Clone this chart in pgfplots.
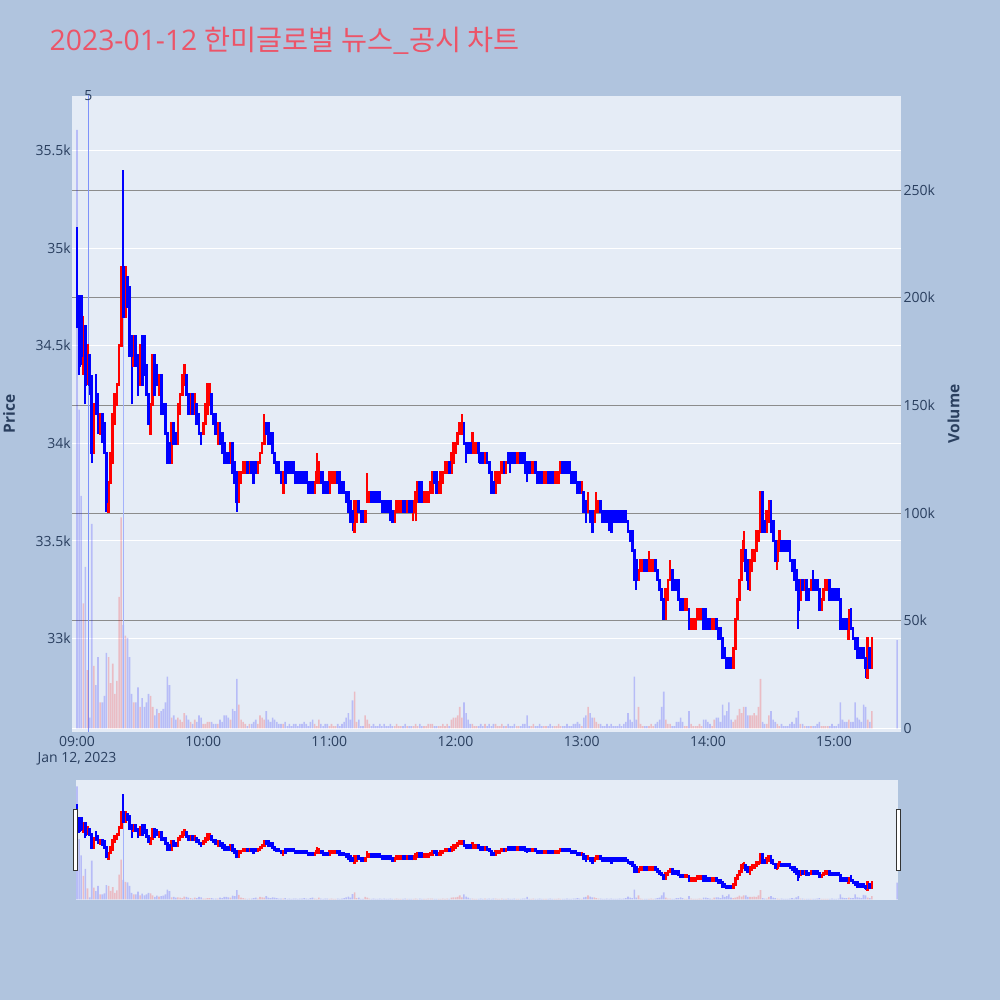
\documentclass[border=0pt]{standalone}
\usepackage{pgfplots}
\usepackage{pgfplotstable}
\pgfplotsset{compat=1.18}
\usepackage{fontspec}
\setmainfont{Open Sans}
\newfontfamily\krfont{Noto Sans CJK KR}

\definecolor{paper}{RGB}{176,196,222}
\definecolor{plotbg}{RGB}{229,236,246}
\definecolor{txt}{RGB}{42,63,95}
\definecolor{up}{RGB}{255,0,0}
\definecolor{down}{RGB}{0,0,255}
\definecolor{vgrid}{RGB}{140,140,140}
\definecolor{ttl}{RGB}{236,84,104}
\definecolor{news}{RGB}{125,145,250}

% one row per minute from 09:00 (t = minutes), volume in thousands
\pgfplotstableread{
t o h l c v
0 35100 35100 34600 34600 278
1 34750 34750 34350 34400 148
2 34750 34750 34400 34450 108
3 34400 34650 34350 34600 58
4 34600 34600 34200 34300 75
5 34350 34500 34300 34500 27
6 34450 34450 34250 34300 5
7 34300 34350 33900 33950 95
8 33950 34200 33950 34200 29
9 34350 34350 34150 34150 20
10 34250 34250 34050 34100 33
11 34050 34150 34050 34150 12
12 34150 34150 34000 34050 12
13 34100 34100 33950 33950 15
14 33950 33950 33650 33700 35
15 33650 33800 33650 33800 33
16 33800 33950 33800 33950 21
17 33900 34150 33900 34150 30
18 34100 34250 34100 34250 16
19 34200 34300 34200 34300 22
20 34300 34500 34300 34500 61
21 34500 34900 34500 34900 98
22 34900 35400 34650 34650 48
23 34650 34900 34650 34900 43
24 34850 34850 34700 34700 42
25 34800 34800 34450 34450 33
26 34550 34550 34200 34450 16
27 34400 34550 34400 34550 12
28 34550 34550 34400 34400 12
29 34450 34450 34250 34250 19
30 34300 34500 34300 34500 10
31 34550 34550 34300 34300 14
32 34550 34550 34350 34350 10
33 34400 34400 34250 34250 12
34 34250 34250 34100 34100 16
35 34050 34200 34050 34200 15
36 34200 34450 34200 34450 10
37 34450 34450 34250 34250 6
38 34400 34400 34300 34300 9
39 34250 34350 34250 34350 7
40 34350 34350 34150 34150 8
41 34200 34200 34150 34150 9
42 34200 34200 34050 34050 12
43 34050 34050 33900 33900 24
44 34000 34000 33900 33900 20
45 33900 34100 33900 34100 5
46 34100 34100 34000 34000 6
47 34050 34050 34000 34000 4
48 34000 34200 34000 34200 5
49 34150 34250 34150 34250 4
50 34250 34350 34250 34350 3
51 34300 34400 34300 34400 7
52 34350 34350 34250 34250 6
53 34250 34250 34150 34150 4
54 34150 34250 34150 34250 3
55 34250 34250 34150 34150 2
56 34150 34250 34150 34250 4
57 34200 34200 34100 34100 3
58 34150 34150 34050 34050 6
59 34050 34050 34000 34000 5
60 34050 34100 34050 34100 2
61 34100 34200 34100 34200 2
62 34150 34300 34150 34300 3
63 34200 34300 34200 34300 3
64 34250 34250 34150 34150 3
65 34150 34150 34100 34100 2
66 34150 34150 34050 34050 2
67 34000 34100 34000 34100 2
68 34100 34100 34000 34000 4
69 34050 34050 33950 33950 3
70 34000 34000 33900 33900 6
71 33950 33950 33900 33900 6
72 33950 33950 33900 33900 5
73 33900 34000 33900 34000 4
74 34000 34000 33850 33850 9
75 33900 33900 33800 33800 8
76 33850 33850 33650 33700 23
77 33700 33850 33700 33850 11
78 33800 33850 33800 33850 4
79 33850 33900 33850 33900 3
80 33850 33900 33850 33900 2
81 33900 33900 33850 33850 1
82 33850 33900 33850 33900 2
83 33900 33900 33850 33850 2
84 33900 33900 33800 33800 3
85 33900 33900 33850 33850 4
86 33850 33900 33850 33900 2
87 33900 33950 33900 33950 6
88 33950 34000 33950 34000 5
89 34000 34150 34000 34100 4
90 34100 34100 34050 34050 8
91 34100 34100 34000 34000 4
92 34050 34050 34000 34000 3
93 34050 34050 33950 33950 5
94 33950 33950 33900 33900 4
95 33900 33900 33850 33850 3
96 33900 33900 33850 33850 2
97 33850 33850 33800 33800 2
98 33750 33850 33750 33850 2
99 33900 33900 33800 33800 3
100 33900 33900 33850 33850 1
101 33900 33900 33850 33850 2
102 33900 33900 33850 33850 1
103 33900 33900 33850 33850 2
104 33850 33850 33800 33800 2
105 33850 33850 33800 33800 1
106 33850 33850 33800 33800 2
107 33850 33850 33800 33800 2
108 33850 33850 33800 33800 3
109 33850 33850 33800 33800 2
110 33800 33800 33750 33750 1
111 33800 33800 33750 33750 3
112 33800 33800 33750 33750 4
113 33750 33800 33750 33800 2
114 33800 33950 33800 33850 1
115 33800 33900 33800 33900 4
116 33850 33850 33800 33800 2
117 33850 33850 33750 33750 1
118 33800 33800 33750 33750 2
119 33800 33800 33750 33750 2
120 33750 33850 33750 33850 1
121 33800 33850 33800 33850 2
122 33800 33850 33800 33850 1
123 33800 33850 33800 33850 1
124 33850 33850 33800 33800 2
125 33850 33850 33750 33750 1
126 33800 33800 33750 33750 2
127 33800 33800 33750 33750 3
128 33750 33750 33700 33700 5
129 33750 33750 33650 33650 7
130 33700 33700 33600 33600 4
131 33650 33650 33550 33600 13
132 33550 33700 33550 33700 17
133 33600 33700 33600 33700 3
134 33700 33700 33650 33650 4
135 33650 33650 33600 33600 1
136 33650 33650 33600 33600 1
137 33600 33650 33600 33650 6
138 33700 33850 33700 33750 4
139 33700 33750 33700 33750 2
140 33750 33750 33700 33700 1
141 33750 33750 33700 33700 2
142 33750 33750 33700 33700 1
143 33750 33750 33700 33700 1
144 33750 33750 33700 33700 2
145 33700 33700 33650 33650 1
146 33700 33700 33650 33650 2
147 33700 33700 33650 33650 1
148 33700 33700 33650 33650 1
149 33700 33700 33600 33650 2
150 33650 33650 33600 33600 1
151 33600 33650 33600 33650 1
152 33650 33700 33650 33700 2
153 33650 33700 33650 33700 1
154 33650 33700 33650 33700 1
155 33700 33700 33650 33650 1
156 33700 33700 33650 33650 2
157 33650 33700 33650 33700 1
158 33700 33700 33650 33650 1
159 33700 33700 33650 33650 1
160 33650 33700 33600 33700 1
161 33650 33750 33600 33750 2
162 33700 33800 33700 33800 1
163 33800 33800 33700 33700 2
164 33800 33800 33700 33700 1
165 33700 33750 33700 33750 1
166 33700 33750 33700 33750 1
167 33700 33750 33700 33750 2
168 33750 33800 33750 33800 2
169 33750 33850 33750 33850 2
170 33850 33850 33800 33800 1
171 33850 33850 33750 33750 1
172 33750 33800 33750 33800 1
173 33750 33850 33750 33850 1
174 33800 33850 33800 33850 2
175 33850 33900 33850 33900 1
176 33850 33900 33850 33900 2
177 33900 33900 33850 33850 1
178 33850 33950 33850 33950 4
179 33900 34000 33900 34000 5
180 33950 34000 33950 34000 5
181 34000 34050 34000 34050 6
182 34050 34100 34050 34100 10
183 34050 34150 34050 34100 5
184 34100 34100 34000 34000 12
185 34000 34000 33900 33950 7
186 34000 34000 33950 33950 4
187 34000 34000 33950 33950 2
188 33950 34050 33950 34050 2
189 33950 34000 33950 34000 1
190 33950 34000 33950 34000 1
191 34000 34000 33900 33950 1
192 33950 33950 33900 33900 2
193 33950 33950 33900 33900 1
194 33900 33950 33900 33950 2
195 33950 33950 33900 33900 1
196 33900 33900 33850 33850 2
197 33850 33850 33750 33750 1
198 33800 33800 33750 33750 2
199 33750 33850 33750 33850 2
200 33800 33850 33800 33850 1
201 33800 33850 33800 33850 1
202 33850 33900 33850 33900 2
203 33900 33900 33850 33850 1
204 33850 33900 33850 33900 1
205 33950 33950 33900 33900 2
206 33950 33950 33850 33900 1
207 33950 33950 33900 33900 1
208 33950 33950 33900 33900 2
209 33900 33950 33900 33950 1
210 33900 33950 33900 33950 1
211 33950 33950 33900 33900 1
212 33950 33950 33900 33900 2
213 33950 33950 33850 33850 2
214 33900 33900 33800 33850 6
215 33900 33900 33850 33850 1
216 33850 33900 33850 33900 1
217 33850 33900 33850 33900 2
218 33900 33900 33850 33850 1
219 33850 33850 33800 33800 1
220 33850 33850 33800 33800 2
221 33850 33850 33800 33800 1
222 33800 33850 33800 33850 1
223 33800 33850 33800 33850 1
224 33850 33850 33800 33800 1
225 33850 33850 33800 33800 2
226 33850 33850 33800 33800 1
227 33800 33850 33800 33850 1
228 33800 33850 33800 33850 1
229 33800 33850 33800 33850 2
230 33850 33900 33850 33900 1
231 33900 33900 33850 33850 1
232 33900 33900 33850 33850 1
233 33900 33900 33850 33850 2
234 33900 33900 33850 33850 1
235 33850 33850 33800 33800 1
236 33850 33850 33800 33800 2
237 33850 33850 33800 33800 2
238 33800 33800 33750 33750 3
239 33800 33800 33750 33750 2
240 33750 33800 33750 33800 1
241 33750 33750 33650 33650 5
242 33700 33700 33600 33600 6
243 33650 33750 33650 33700 10
244 33650 33650 33600 33600 7
245 33650 33650 33550 33550 5
246 33600 33650 33600 33650 5
247 33650 33750 33650 33700 3
248 33650 33700 33650 33700 2
249 33700 33700 33650 33650 2
250 33650 33650 33600 33600 1
251 33650 33650 33600 33600 1
252 33650 33650 33600 33600 2
253 33650 33650 33550 33600 1
254 33650 33650 33550 33550 2
255 33650 33650 33600 33600 1
256 33650 33650 33600 33600 1
257 33650 33650 33600 33600 1
258 33650 33650 33600 33600 2
259 33650 33650 33600 33600 1
260 33650 33650 33600 33600 2
261 33650 33650 33600 33600 3
262 33600 33600 33550 33550 7
263 33550 33550 33500 33500 4
264 33550 33550 33450 33450 3
265 33450 33450 33300 33300 24
266 33400 33400 33250 33300 4
267 33300 33350 33300 33350 10
268 33350 33400 33350 33400 2
269 33350 33400 33350 33400 1
270 33400 33400 33350 33350 1
271 33400 33400 33350 33350 1
272 33350 33450 33350 33400 1
273 33350 33400 33350 33400 2
274 33350 33400 33350 33400 1
275 33400 33400 33350 33350 2
276 33350 33350 33300 33300 3
277 33300 33300 33250 33250 4
278 33250 33250 33200 33200 10
279 33200 33200 33100 33100 17
280 33100 33250 33100 33250 4
281 33200 33300 33200 33300 2
282 33300 33400 33300 33350 2
283 33350 33350 33250 33250 1
284 33300 33300 33250 33250 1
285 33300 33300 33250 33250 3
286 33300 33300 33200 33200 3
287 33200 33200 33150 33150 5
288 33200 33200 33150 33150 3
289 33150 33200 33150 33200 1
290 33150 33200 33150 33200 1
291 33150 33150 33050 33050 8
292 33050 33100 33050 33100 2
293 33050 33100 33050 33100 1
294 33050 33100 33050 33100 1
295 33100 33150 33100 33150 1
296 33100 33150 33100 33150 2
297 33100 33150 33100 33150 1
298 33150 33150 33050 33050 4
299 33150 33150 33050 33050 4
300 33100 33100 33050 33050 3
301 33100 33100 33050 33050 2
302 33050 33100 33050 33100 1
303 33050 33100 33050 33100 4
304 33100 33100 33050 33050 5
305 33050 33050 33000 33000 5
306 33050 33050 33000 33000 3
307 33000 33000 32900 32900 11
308 32950 32950 32900 32900 6
309 32900 32900 32850 32850 8
310 32900 32900 32850 32850 12
311 32900 32900 32850 32850 4
312 32850 32950 32850 32950 3
313 32950 33100 32950 33100 4
314 33100 33200 33100 33200 6
315 33200 33300 33200 33300 9
316 33300 33450 33300 33450 7
317 33400 33550 33400 33500 10
318 33450 33450 33350 33350 10
319 33400 33400 33250 33300 6
320 33250 33400 33250 33400 6
321 33350 33450 33350 33450 6
322 33400 33450 33400 33450 7
323 33450 33550 33450 33550 6
324 33500 33550 33500 33550 10
325 33550 33750 33550 33750 23
326 33750 33750 33550 33550 3
327 33600 33600 33550 33550 2
328 33550 33650 33550 33650 2
329 33600 33700 33600 33700 6
330 33700 33700 33550 33550 8
331 33600 33600 33500 33500 4
332 33500 33500 33400 33400 3
333 33400 33500 33350 33500 2
334 33450 33550 33450 33550 1
335 33500 33500 33450 33450 2
336 33500 33500 33450 33450 1
337 33500 33500 33450 33450 1
338 33500 33500 33450 33450 1
339 33500 33500 33400 33400 2
340 33400 33400 33350 33350 3
341 33400 33400 33300 33300 2
342 33350 33350 33250 33250 5
343 33300 33300 33050 33150 8
344 33200 33300 33200 33300 2
345 33300 33300 33250 33250 2
346 33250 33300 33250 33300 1
347 33300 33300 33200 33200 1
348 33250 33250 33200 33200 1
349 33250 33300 33250 33300 1
350 33300 33350 33250 33250 1
351 33300 33300 33250 33250 1
352 33300 33300 33250 33250 2
353 33250 33250 33150 33150 3
354 33150 33200 33150 33200 1
355 33200 33250 33200 33250 1
356 33250 33300 33250 33300 1
357 33250 33300 33250 33300 1
358 33300 33300 33200 33200 1
359 33250 33250 33200 33200 2
360 33250 33250 33200 33200 1
361 33250 33250 33200 33200 1
362 33250 33250 33200 33200 2
363 33200 33200 33050 33050 12
364 33100 33100 33050 33050 4
365 33100 33100 33050 33050 3
366 33100 33100 33050 33050 3
367 33000 33150 33000 33100 4
368 33150 33150 33050 33050 3
369 33050 33050 33000 33000 3
370 33000 33000 32950 32950 12
371 33000 33000 32900 32900 5
372 32950 32950 32900 32900 4
373 32950 32950 32900 32900 3
374 32950 32950 32900 32900 11
375 32900 32900 32800 32850 10
376 32800 33000 32800 33000 4
377 32950 32950 32850 32850 3
378 32850 33000 32850 33000 8
390 32700 32700 32700 32700 41
}\candles

\newcommand{\volbars}{%
  \addplot[ybar, bar width=0.75, bar shift=0pt, fill=up, fill opacity=0.2, draw=none,
    forget plot, restrict x to domain=-50:500]
    table[x expr={ifthenelse(\thisrow{c}>\thisrow{o},\thisrow{t},-100)}, y=v] \candles;
  \addplot[ybar, bar width=0.75, bar shift=0pt, fill=down, fill opacity=0.2, draw=none,
    forget plot, restrict x to domain=-50:500]
    table[x expr={ifthenelse(\thisrow{c}>\thisrow{o},-100,\thisrow{t})}, y=v] \candles;
  \addplot[news!70!white, line width=1pt, forget plot] coordinates {(22,0) (22,191)};
}

\newcommand{\candlebars}{%
  \addplot[draw=none, mark=none, forget plot, restrict x to domain=-50:500,
    error bars/.cd, y dir=plus, y explicit, error mark=none,
    error bar style={draw=up, line width=2pt}]
    table[x expr={ifthenelse(\thisrow{c}>\thisrow{o},\thisrow{t},-100)}, y=l,
      y error plus expr={\thisrow{h}-\thisrow{l}}] \candles;
  \addplot[draw=none, mark=none, forget plot, restrict x to domain=-50:500,
    error bars/.cd, y dir=plus, y explicit, error mark=none,
    error bar style={draw=down, line width=2pt}]
    table[x expr={ifthenelse(\thisrow{c}>\thisrow{o},-100,\thisrow{t})}, y=l,
      y error plus expr={\thisrow{h}-\thisrow{l}}] \candles;
  \addplot[draw=none, mark=none, forget plot, restrict x to domain=-50:500,
    error bars/.cd, y dir=plus, y explicit, error mark=none,
    error bar style={draw=up, line width=2.8pt, line cap=rect}]
    table[x expr={ifthenelse(\thisrow{c}>\thisrow{o},\thisrow{t},-100)}, y=o,
      y error plus expr={\thisrow{c}-\thisrow{o}}] \candles;
  \addplot[draw=none, mark=none, forget plot, restrict x to domain=-50:500,
    error bars/.cd, y dir=plus, y explicit, error mark=none,
    error bar style={draw=down, line width=2.8pt, line cap=rect}]
    table[x expr={ifthenelse(\thisrow{c}>\thisrow{o},-100,\thisrow{t})}, y=c,
      y error plus expr={\thisrow{o}-\thisrow{c}}] \candles;
}

\pgfplotsset{
  base/.style={scale only axis, anchor=south west, axis line style={draw=none},
    major tick length=0pt, tick style={draw=none}, scaled ticks=false,
    tick label style={font=\fontsize{14}{16}\selectfont, text=txt},
    /pgf/number format/assume math mode=true},
  mainbox/.style={base, at={(72pt,268.3pt)}, width=828.5pt, height=635.7pt,
    xmin=-2.378, xmax=391.58},
  slidebox/.style={base, at={(76pt,100pt)}, width=822pt, height=120pt,
    xmin=-0.476, xmax=390.4, hide axis},
  price/.style={ymin=32523, ymax=35779},
  volume/.style={ymin=-1.58, ymax=293.7},
}

\begin{document}
\begin{tikzpicture}
\path[use as bounding box] (0,0) rectangle (1000pt,1000pt);
\fill[paper] (0,0) rectangle (1000pt,1000pt);

% price axis: background, white grid, left and bottom labels
\begin{axis}[mainbox, price,
  axis background/.style={fill=plotbg},
  ymajorgrids, grid style={white, line width=1pt},
  ytick={33000,33500,34000,34500,35000,35500},
  yticklabels={33k,33.5k,34k,34.5k,35k,35.5k},
  xtick={0,60,120,180,240,300,360},
  xticklabels={{09:00\\Jan 12, 2023},10:00,11:00,12:00,13:00,14:00,15:00},
  yticklabel style={anchor=east, inner sep=0pt, xshift=-1pt},
  xticklabel style={anchor=north, inner sep=0pt, yshift=-4.3pt, align=center},
]
\end{axis}

% volume axis: grey grid, bars, right labels
\begin{axis}[mainbox, volume, hide x axis,
  yticklabel pos=right,
  ymajorgrids, grid style={vgrid, line width=1pt},
  ytick={50,100,150,200,250},
  yticklabels={50k,100k,150k,200k,250k},
  extra y ticks={0}, extra y tick labels={0},
  extra y tick style={grid style={white, line width=1.5pt}},
  yticklabel style={anchor=west, inner sep=0pt, xshift=3pt},
]
\addplot[news, line width=1pt, forget plot] coordinates {(5.37,-5) (5.37,300)};
\volbars
\end{axis}

% candles on top
\begin{axis}[mainbox, price, hide axis]
\candlebars
\end{axis}

% range slider
\fill[plotbg] (76pt,100pt) rectangle (898pt,220pt);
\begin{axis}[slidebox, volume]
\volbars
\end{axis}
\begin{axis}[slidebox, price]
\candlebars
\end{axis}
\filldraw[fill=white, draw={rgb,255:red,51;green,51;blue,51}, line width=1pt]
  (73.3pt,129.3pt) rectangle (77.7pt,190pt);
\filldraw[fill=white, draw={rgb,255:red,51;green,51;blue,51}, line width=1pt]
  (896pt,129.3pt) rectangle (900.7pt,190pt);

% texts
\node[anchor=base west, inner sep=0pt, text=ttl] at (49.5pt,949pt)
  {\fontsize{28.3}{34}\selectfont 2023-01-12 {\krfont 한미글로벌 뉴스\_공시 차트}};
\node[text=txt, inner sep=0pt] at (88.3pt,904pt) {\fontsize{14}{16}\selectfont 5};
\node[rotate=90, text=txt, inner sep=0pt] at (9pt,586.2pt)
  {\fontsize{15.5}{18}\selectfont\bfseries Price};
\node[rotate=90, text=txt, inner sep=0pt] at (953.5pt,586.2pt)
  {\fontsize{15.5}{18}\selectfont\bfseries Volume};
\end{tikzpicture}
\end{document}
